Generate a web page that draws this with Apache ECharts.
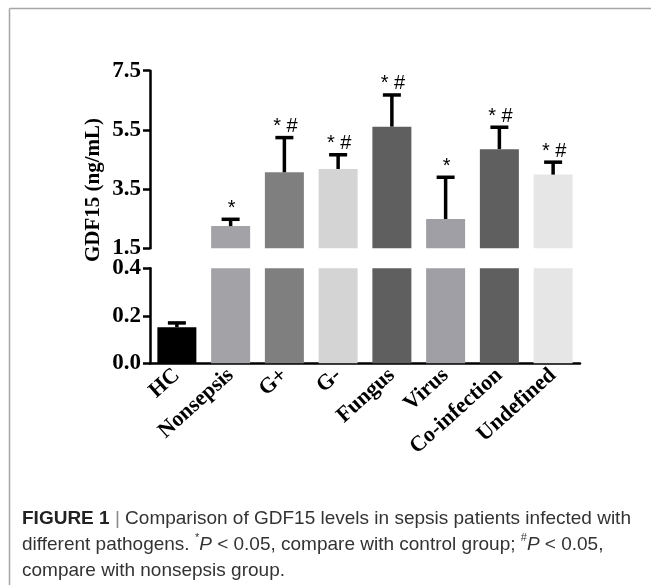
<!DOCTYPE html>
<html>
<head>
<meta charset="utf-8">
<script src="https://cdn.jsdelivr.net/npm/echarts@6/dist/echarts.min.js"></script>
<style>
html,body{margin:0;padding:0;background:#fff;}
#chart{width:651px;height:585px;}
</style>
</head>
<body>
<div id="chart"></div>
<script>
// ---- data ----
var categories = ['HC', 'Nonsepsis', 'G+', 'G-', 'Fungus', 'Virus', 'Co-infection', 'Undefined'];
var means = [0.152, 2.25, 4.07, 4.18, 5.61, 2.49, 4.85, 3.99];
var sds = [0.018, 0.23, 1.17, 0.48, 1.07, 1.41, 0.74, 0.42];
var marks = ['', '*', '* #', '* #', '* #', '*', '* #', '* #'];
var barColors = ['#000000', '#a3a2a7', '#7f7f7f', '#d4d4d4', '#5f5f5f', '#a09fa5', '#5f5f5f', '#e6e6e6'];
var upperTicks = [1.5, 3.5, 5.5, 7.5];
var lowerTicks = [0.0, 0.2, 0.4];
var breakLow = 0.4, breakHigh = 1.5, upperMax = 7.5;

var chart = echarts.init(document.getElementById('chart'), null, {renderer: 'canvas'});

var serif = 'Liberation Serif';
var sans = 'Liberation Sans';

var upperBars = means.map(function (v, i) {
  return v >= breakHigh ? {value: v, itemStyle: {color: barColors[i]}} : '-';
});
var lowerBars = means.map(function (v, i) {
  return {value: Math.min(v, breakLow), itemStyle: {color: barColors[i]}};
});
var upperErr = [], lowerErr = [];
means.forEach(function (v, i) {
  var item = [i, v, v + sds[i]];
  if (v >= breakHigh) upperErr.push(item); else lowerErr.push(item);
});

function renderErr(params, api) {
  var x = api.value(0);
  var p0 = api.coord([x, api.value(1)]);
  var p1 = api.coord([x, api.value(2)]);
  var half = 9;
  var label = marks[x];
  var children = [
    {type: 'line', shape: {x1: p0[0], y1: p0[1], x2: p1[0], y2: p1[1]},
     style: {stroke: '#000', lineWidth: 3.5}},
    {type: 'line', shape: {x1: p1[0] - half, y1: p1[1], x2: p1[0] + half, y2: p1[1]},
     style: {stroke: '#000', lineWidth: 3.5}}
  ];
  if (label) {
    children.push({type: 'text', x: p1[0] + 1, y: p1[1] - 1,
      style: {text: label, fill: '#000', font: '20px "' + sans + '"', align: 'center', verticalAlign: 'bottom'}});
  }
  return {type: 'group', children: children};
}

var axisLineStyle = {color: '#000', width: 2.5};
var yLabel = {color: '#000', fontFamily: serif, fontWeight: 'bold', fontSize: 23, margin: 9};

var option = {
  animation: false,
  grid: [
    {left: 150, width: 430, top: 70.7, height: 177.6},
    {left: 150, width: 430, top: 268.3, height: 95}
  ],
  xAxis: [
    {type: 'category', gridIndex: 0, data: categories, show: false},
    {type: 'category', gridIndex: 1, data: categories,
     axisLine: {lineStyle: axisLineStyle},
     axisTick: {alignWithLabel: true, length: 7, lineStyle: {color: '#000', width: 2.5}},
     axisLabel: {interval: 0, rotate: 42, color: '#000', fontFamily: serif, fontWeight: 'bold', fontSize: 22, margin: 9}}
  ],
  yAxis: [
    {type: 'value', gridIndex: 0, min: breakHigh, max: upperMax,
     splitLine: {show: false},
     axisLine: {show: true, lineStyle: axisLineStyle},
     axisTick: {show: true, length: 7, lineStyle: {color: '#000', width: 2.5}, customValues: upperTicks},
     axisLabel: Object.assign({customValues: upperTicks, formatter: function (v) { return v.toFixed(1); }}, yLabel)},
    {type: 'value', gridIndex: 1, min: 0, max: breakLow,
     splitLine: {show: false},
     axisLine: {show: true, lineStyle: axisLineStyle},
     axisTick: {show: true, length: 7, lineStyle: {color: '#000', width: 2.5}, customValues: lowerTicks},
     axisLabel: Object.assign({customValues: lowerTicks, formatter: function (v) { return v.toFixed(1); }}, yLabel)}
  ],
  series: [
    {type: 'bar', xAxisIndex: 0, yAxisIndex: 0, data: upperBars, barWidth: 39, clip: true},
    {type: 'bar', xAxisIndex: 1, yAxisIndex: 1, data: lowerBars, barWidth: 39, clip: true},
    {type: 'custom', xAxisIndex: 0, yAxisIndex: 0, data: upperErr, renderItem: renderErr, clip: false, z: 5},
    {type: 'custom', xAxisIndex: 1, yAxisIndex: 1, data: lowerErr, renderItem: renderErr, clip: false, z: 5}
  ],
  graphic: [
    {type: 'line', shape: {x1: 9.5, y1: 8.5, x2: 651, y2: 8.5}, style: {stroke: '#a6a6a6', lineWidth: 1.5}},
    {type: 'line', shape: {x1: 9.5, y1: 8.5, x2: 9.5, y2: 585}, style: {stroke: '#a6a6a6', lineWidth: 1.5}},
    {type: 'text', x: 94, y: 190, rotation: Math.PI / 2,
     style: {text: 'GDF15 (ng/mL)', fill: '#000', font: 'bold 21px "' + serif + '"', align: 'center', verticalAlign: 'middle'}},
    {type: 'text', x: 22, y: 506,
     style: {
       text: '{b|FIGURE 1} {s||} Comparison of GDF15 levels in sepsis patients infected with\n' +
             'different pathogens. {sup|*}{i|P} < 0.05, compare with control group; {sup|#}{i|P} < 0.05,\n' +
             'compare with nonsepsis group.',
       fill: '#333', font: '19px "' + sans + '"', lineHeight: 26,
       rich: {
         b: {fontWeight: 'bold', fill: '#222', fontSize: 19, fontFamily: sans, lineHeight: 26},
         s: {fill: '#888', fontSize: 19, fontFamily: sans, lineHeight: 26},
         i: {fontStyle: 'italic', fontSize: 19, fontFamily: sans, lineHeight: 26},
         sup: {fontSize: 11, fontFamily: sans, verticalAlign: 'top', lineHeight: 26, padding: [0, 0, 9, 0]}
       }
     }}
  ]
};
chart.setOption(option);
</script>
</body>
</html>
